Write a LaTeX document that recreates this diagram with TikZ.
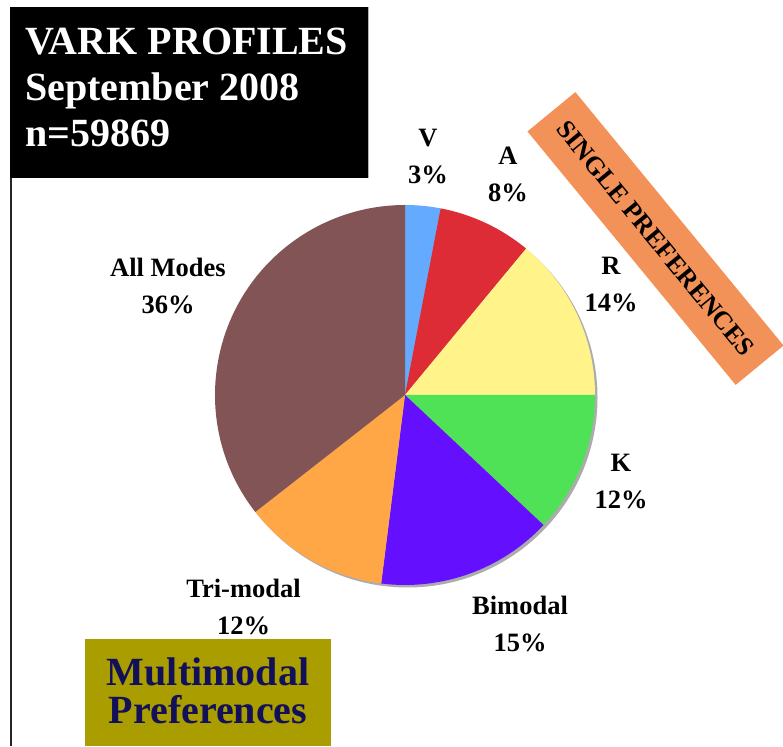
\documentclass[tikz,border=0pt]{standalone}
\usepackage{fontspec}
\setmainfont{Liberation Serif}
\usetikzlibrary{positioning, calc}

\definecolor{vblue}{RGB}{100,170,255}
\definecolor{ared}{RGB}{221,44,53}
\definecolor{ryellow}{RGB}{255,243,138}
\definecolor{kgreen}{RGB}{80,226,86}
\definecolor{bipurple}{RGB}{100,16,255}
\definecolor{triorange}{RGB}{255,166,70}
\definecolor{allbrown}{RGB}{131,84,86}
\definecolor{bannerorange}{RGB}{243,146,88}
\definecolor{olivebox}{RGB}{170,157,0}
\definecolor{navytext}{RGB}{18,16,88}

\tikzset{
  titletext/.style={font=\fontsize{40}{46}\selectfont\bfseries, text=white, anchor=base west, inner sep=0},
  pctlabel/.style={font=\fontsize{26.5}{37}\selectfont\bfseries, align=center, inner sep=0},
  multitext/.style={font=\fontsize{40}{40}\selectfont\bfseries, text=navytext, anchor=base, inner sep=0},
}

\begin{document}
\begin{tikzpicture}[x=1pt, y=1pt]
    \useasboundingbox (0,0) rectangle (783,746);

    % Title box
    \fill[black] (10,568) rectangle (368,739);
    \draw[gray!60, line width=0.8] (368,568) -- (368,739);
    \node[titletext] (title1) at (25,691) {VARK PROFILES};
    \node[titletext] (title2) at (25,645) {September 2008};
    \node[titletext] (title3) at (25,599) {n=59869};

    % Left frame line
    \draw[black!85, line width=2.2] (11,568) -- (11,0);

    % Pie shadow
    \coordinate (c) at (405,351);
    \fill[gray!65] ($(c)+(2.5,-2.5)$) circle (190);

    % Pie slices (clockwise from top)
    \fill[vblue]     (c) -- ++(90:190)    arc (90:79.2:190)     -- cycle;
    \fill[ared]      (c) -- ++(79.2:190)  arc (79.2:50.4:190)   -- cycle;
    \fill[ryellow]   (c) -- ++(50.4:190)  arc (50.4:0:190)      -- cycle;
    \fill[kgreen]    (c) -- ++(0:190)     arc (0:-43.2:190)     -- cycle;
    \fill[bipurple]  (c) -- ++(-43.2:190) arc (-43.2:-97.2:190) -- cycle;
    \fill[triorange] (c) -- ++(-97.2:190) arc (-97.2:-142:190)  -- cycle;
    \fill[allbrown]  (c) -- ++(-142:190)  arc (-142:-270:190)   -- cycle;

    % Slice labels
    \node[pctlabel] (vlab)   at (428,589) {V\\3\%};
    \node[pctlabel] (alab)   at (508,572) {A\\8\%};
    \node[pctlabel] (rlab)   at (611,461) {R\\14\%};
    \node[pctlabel] (klab)   at (621,264) {K\\12\%};
    \node[pctlabel] (bilab)  at (520,122.5) {Bimodal\\15\%};
    \node[pctlabel] (trilab) at (243.5,139.5) {Tri-modal\\12\%};
    \node[pctlabel] (alllab) at (168,460.5) {All Modes\\36\%};

    % Single preferences banner
    \node[fill=bannerorange, rotate=-50.6, minimum width=328, minimum height=62,
          font=\fontsize{26}{26}\selectfont\bfseries, inner sep=0] (single)
          at (655.5,507.5) {SINGLE PREFERENCES};

    % Multimodal box
    \fill[olivebox] (85,0) rectangle (331,107);
    \node[multitext] (multi1) at (208,61) {Multimodal};
    \node[multitext] (multi2) at (208,23) {Preferences};
\end{tikzpicture}
\end{document}
